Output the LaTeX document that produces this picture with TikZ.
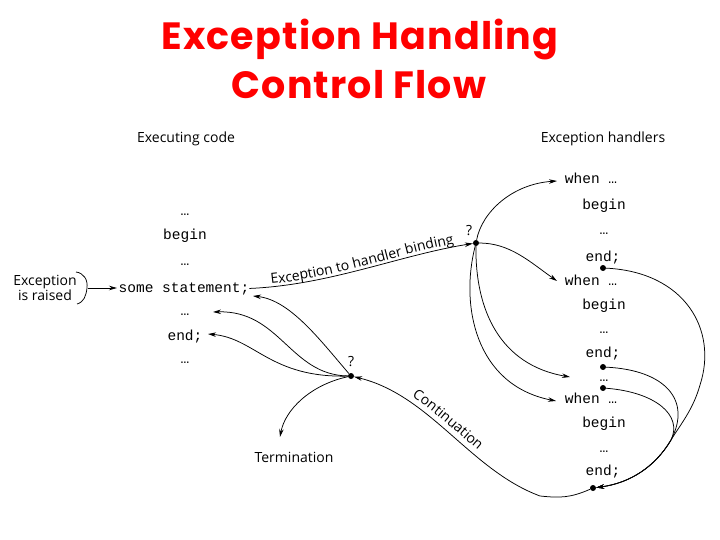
\documentclass[tikz,border=0pt]{standalone}
\usepackage{fontspec}
\setmainfont{Open Sans}
\newfontfamily\titlefont{Poppins}[LetterSpace=3]
\newfontfamily\codefont{Liberation Mono}
\usetikzlibrary{arrows.meta,decorations.text}
\tikzset{
  lbl/.style={font=\fontsize{14}{17}\selectfont, inner sep=0pt},
  code/.style={font=\codefont\fontsize{14.5}{16}\selectfont, inner sep=0pt, anchor=base},
  ttl/.style={font=\titlefont\bfseries\fontsize{38}{46}\selectfont, text=red, inner sep=0pt, anchor=base},
  dotnode/.style={circle, fill=black, inner sep=0pt, minimum size=6pt},
  arr/.style={-{Stealth[length=8pt,width=4.5pt]}, line width=0.75pt},
  plain/.style={line width=0.75pt},
}
\begin{document}
\begin{tikzpicture}[x=1pt,y=-1pt]
\useasboundingbox (0,0) rectangle (720,540);
% title
\node[ttl] (t1) at (360,50) {Exception Handling};
\node[ttl] (t2) at (359,99) {Control Flow};
% headings
\node[lbl] (hexec) at (186,139) {Executing code};
\node[lbl] (hhand) at (603,139) {Exception handlers};
% executing code column
\node[code] (l1) at (185,215) {…};
\node[code] (l2) at (185,240) {begin};
\node[code] (l3) at (185,265) {…};
\node[code] (stmt) at (184,292) {some statement;};
\node[code] (l5) at (185,315) {…};
\node[code] (l6) at (185,340) {end;};
\node[code] (l7) at (185,363) {…};
% exception raised
\node[lbl, align=center] (raised) at (45,288) {Exception\\[-2pt]is raised};
\draw[plain] (76,272) .. controls (84,273) and (88,280) .. (87,288) .. controls (86,296) and (84,302) .. (77,304);
\coordinate (rs) at (88,288);
\coordinate (re) at (117,288);
\draw[arr] (rs) -- (re);
% handlers column
\node[code] (h1) at (591,184) {when …};
\node[code] (h2) at (604,210) {begin};
\node[code] (h3) at (604,235) {…};
\node[code] (h4) at (603,261) {end;};
\node[code] (h5) at (591,285) {when …};
\node[code] (h6) at (604,309) {begin};
\node[code] (h7) at (604,333) {…};
\node[code] (h8) at (603,357) {end;};
\node[code] (h9) at (604,381) {…};
\node[code] (h10) at (591,403) {when …};
\node[code] (h11) at (604,427) {begin};
\node[code] (h12) at (604,452) {…};
\node[code] (h13) at (603,475) {end;};
% dots
\node[dotnode] (B) at (476,243) {};
\node[dotnode] (T) at (351,376) {};
\node[dotnode] (D1) at (603,268) {};
\node[dotnode] (D2) at (603,367) {};
\node[dotnode] (D3) at (603,388) {};
\node[dotnode] (D4) at (593,488) {};
\node[lbl] (qB) at (469,231) {?};
\node[lbl] (qT) at (351,362) {?};
\node[lbl] (term) at (294,457) {Termination};
% targets
\coordinate (aw1) at (557,181);
\coordinate (aw2) at (557,281);
\coordinate (aw3) at (570,377);
\coordinate (aw4) at (556,401);
\coordinate (as) at (253,296);
\coordinate (a5) at (213,312);
\coordinate (a6) at (208,334);
\coordinate (aterm) at (280,437);
% exception to handler binding
\draw[arr] (stmt.east) .. controls (330,285) and (400,255) .. (B);
\path[decorate, decoration={text along path, raise=3pt, text align={left indent=22pt},
  text={|\fontsize{14}{17}\selectfont|Exception to handler binding}}]
  (stmt.east) .. controls (330,285) and (400,255) .. (B);
% binding to handlers
\draw[arr] (B) .. controls (482,212) and (512,184) .. (aw1);
\draw[arr] (B) .. controls (510,243) and (530,262) .. (aw2);
\draw[arr] (B) .. controls (475,310) and (500,365) .. (aw3);
\draw[arr] (B) .. controls (460,305) and (475,385) .. (aw4);
% handlers end to continuation point
\draw[arr] (D1) .. controls (685,272) and (718,330) .. (700,385) .. controls (693,410) and (680,425) .. (671,440) .. controls (655,467) and (630,483) .. (D4);
\draw[arr] (D2) .. controls (665,370) and (692,400) .. (671,440) .. controls (655,467) and (630,483) .. (D4);
\draw[arr] (D3) .. controls (655,392) and (683,415) .. (671,440) .. controls (655,467) and (630,483) .. (D4);
% continuation
\draw[arr] (D4) .. controls (570,498) and (560,498) .. (540,496) .. controls (470,470) and (430,395) .. (T);
\path[decorate, decoration={text along path, raise=6pt, text align={left indent=60pt},
  text={|\fontsize{14}{17}\selectfont|Continuation}}]
  (T) .. controls (430,395) and (470,470) .. (540,496);
% from T back to code / termination
\draw[arr] (T) .. controls (320,340) and (290,300) .. (as);
\draw[arr] (T) .. controls (290,375) and (280,310) .. (a5);
\draw[arr] (T) .. controls (270,378) and (255,338) .. (a6);
\draw[arr] (T) .. controls (310,385) and (285,410) .. (aterm);
\end{tikzpicture}
\end{document}
